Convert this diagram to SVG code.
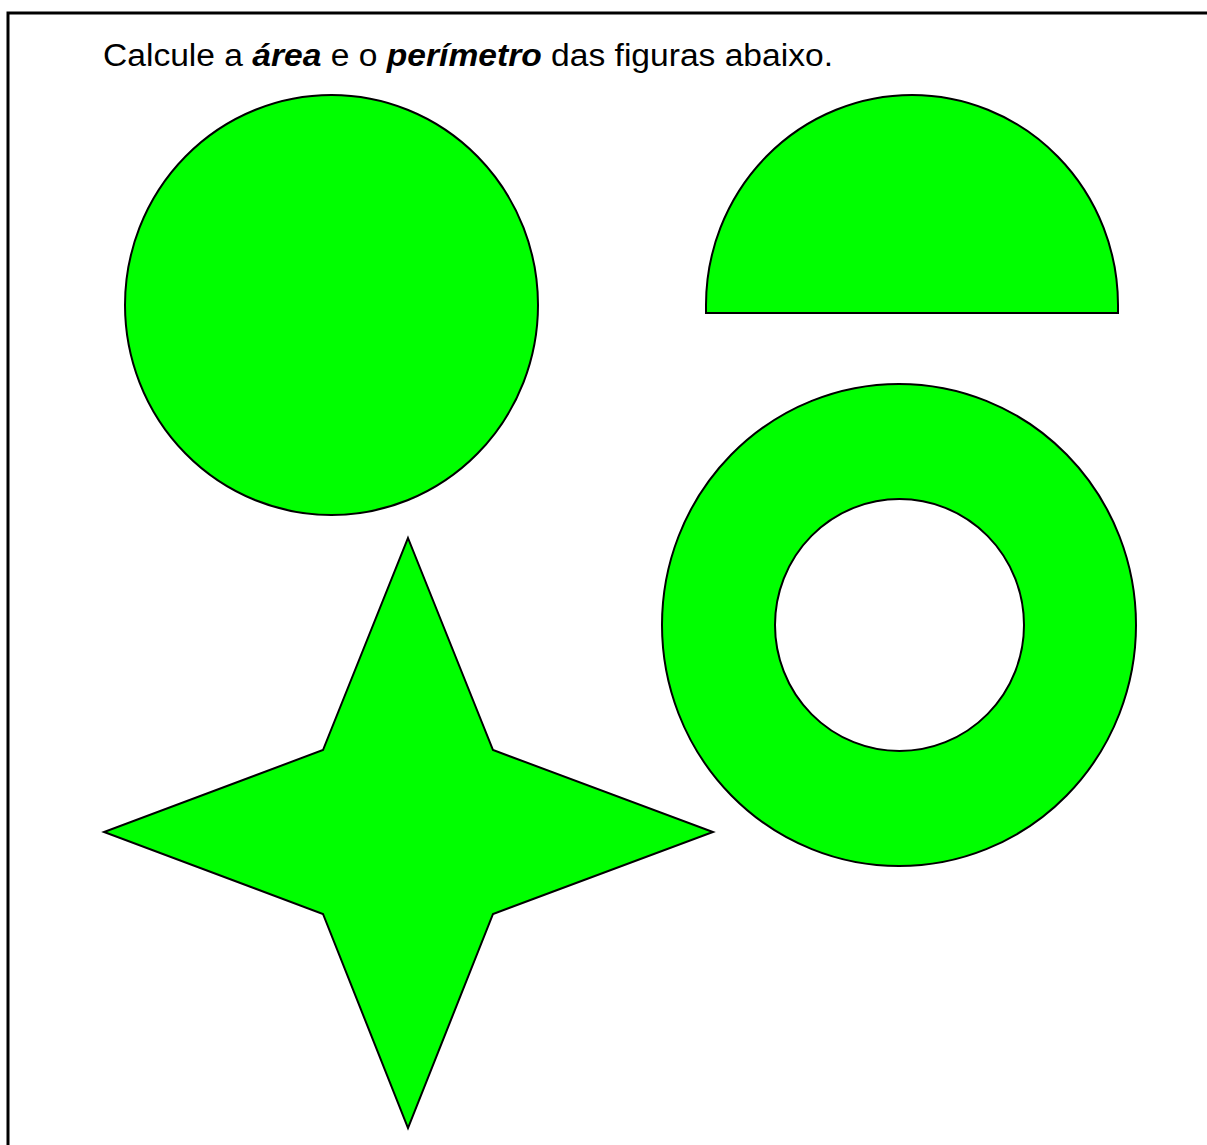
<svg xmlns="http://www.w3.org/2000/svg" width="1207" height="1145" viewBox="0 0 1207 1145">
<style>
.fig{fill:#00ff00;stroke:#000;stroke-width:2;stroke-linejoin:miter}
.t{font-family:"Liberation Sans",Arial,sans-serif;font-size:31px;fill:#000}
.b{font-weight:bold;font-style:italic}
</style>
<rect x="0" y="0" width="1207" height="1145" fill="#fff"/>
<path d="M8,1145 L8,13 L1207,13" fill="none" stroke="#000" stroke-width="3"/>
<text class="t" x="103" y="66" textLength="730" lengthAdjust="spacingAndGlyphs">Calcule a <tspan class="b">área</tspan> e o <tspan class="b">perímetro</tspan> das figuras abaixo.</text>
<g id="circle"><ellipse class="fig" cx="331.5" cy="305" rx="206.5" ry="210"/></g>
<g id="semicircle"><path class="fig" d="M706,313 L706,305 A206,210 0 0 1 1118,305 L1118,313 Z"/></g>
<g id="ring"><path class="fig" fill-rule="evenodd" d="M662,625 A237,241 0 1 0 1136,625 A237,241 0 1 0 662,625 Z M775,625 A124.5,126 0 1 0 1024,625 A124.5,126 0 1 0 775,625 Z"/></g>
<g id="star"><polygon class="fig" points="408,538 493,750 713,832 493,914 408,1128 323,914 104,832 323,750"/></g>
<g id="connectors"/>
</svg>
